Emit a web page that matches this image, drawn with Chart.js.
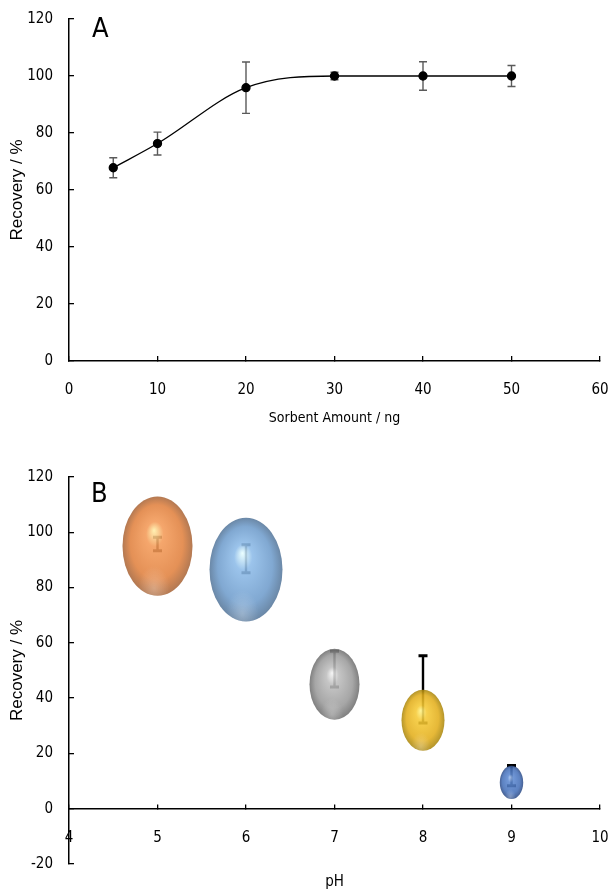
<!DOCTYPE html>
<html><head><meta charset="utf-8">
<script src="https://cdn.jsdelivr.net/npm/chart.js@4.4.1/dist/chart.umd.min.js"></script>
<style>
html,body{margin:0;padding:0;background:#fff;width:611px;height:891px;overflow:hidden}
#a{position:absolute;left:0;top:0}
#b{position:absolute;left:0;top:440px}
</style>
</head><body>
<canvas id="a" width="611" height="440"></canvas>
<canvas id="b" width="611" height="451"></canvas>
<script>
// ---------- Panel A data ----------
const sorbentAmount = [5, 10, 20, 30, 40, 50];
const recoveryA     = [67.8, 76.3, 95.9, 100, 100, 100];
const errorA        = [3.5, 4, 9, 1.3, 5, 3.7];
const xTicksA       = [0, 10, 20, 30, 40, 50, 60];
const yTicksA       = [0, 20, 40, 60, 80, 100, 120];

// ---------- Panel B data ----------
const pH          = [5, 6, 7, 8, 9];
const recoveryB   = [95, 86.5, 45, 32, 9.5];
const bubbleSizeB = [35, 36.5, 25, 21.5, 11.7];
const errLowB     = [93.3, 85.4, 44, 31, 8.3];
const errHighB    = [98.2, 95.5, 57, 55.3, 15.6];
const xTicksB     = [4, 5, 6, 7, 8, 9, 10];
const yTicksB     = [-20, 0, 20, 40, 60, 80, 100, 120];

// ---------- styles ----------
const NARROW = "'Liberation Sans Narrow', 'DejaVu Sans Condensed', 'Roboto Condensed', sans-serif";
const ARIAL = "'Liberation Sans', Arial, sans-serif";
const tickFont = {family: NARROW, size: 15};
const bubbleStyles = [
  {hi: '#FFEFA8', base: '#F39A58', mid: '#E0813F', dark: '#A8663A'},
  {hi: '#E8FFFF', base: '#8DBBE8', mid: '#6F9CCB', dark: '#56779A'},
  {hi: '#F4F4F4', base: '#BDBDBD', mid: '#9A9A9A', dark: '#6E6E6E'},
  {hi: '#FFF48A', base: '#F5C935', mid: '#E2AE1C', dark: '#A9860E'},
  {hi: '#A8C6F4', base: '#5C88D0', mid: '#4670B8', dark: '#2E4C86'}
];
const STRETCH = 1.42;

function stepOf(arr){ return arr[1] - arr[0]; }
function zeroPad(s){ s.paddingTop = 0; s.paddingBottom = 0; s.paddingLeft = 0; s.paddingRight = 0; }

function panelLabel(text, x, y, size){
  return {
    id: 'label' + text,
    afterDraw(chart){
      const ctx = chart.ctx;
      ctx.save();
      ctx.fillStyle = '#000';
      ctx.font = size + 'px ' + NARROW;
      ctx.textBaseline = 'alphabetic';
      ctx.textAlign = 'left';
      ctx.fillText(text, x, y);
      ctx.restore();
    }
  };
}

function baseY(ticks, title){
  return {
    type: 'linear',
    min: ticks[0], max: ticks[ticks.length - 1],
    ticks: {stepSize: stepOf(ticks), padding: 21, font: tickFont, color: '#000'},
    grid: {drawOnChartArea: false, tickLength: -5, color: '#000', lineWidth: 1.3},
    border: {color: '#000', width: 1.5},
    title: {display: true, text: title, font: {family: ARIAL, size: 17}, color: '#000', padding: {top: 7, bottom: 0}},
    afterFit(s){ s.width = 69; zeroPad(s); }
  };
}

// ---------- Chart A ----------
const errorBarsA = {
  id: 'errorBarsA',
  beforeDatasetsDraw(chart){
    const {ctx, scales: {x, y}} = chart;
    ctx.save();
    ctx.strokeStyle = '#5a5a5a';
    ctx.lineWidth = 1.4;
    sorbentAmount.forEach((v, i) => {
      const px = x.getPixelForValue(v);
      const lo = y.getPixelForValue(recoveryA[i] - errorA[i]);
      const hi = y.getPixelForValue(recoveryA[i] + errorA[i]);
      ctx.beginPath();
      ctx.moveTo(px, lo); ctx.lineTo(px, hi);
      ctx.moveTo(px - 4, lo); ctx.lineTo(px + 4, lo);
      ctx.moveTo(px - 4, hi); ctx.lineTo(px + 4, hi);
      ctx.stroke();
    });
    ctx.restore();
  }
};

new Chart(document.getElementById('a'), {
  type: 'line',
  data: {
    datasets: [{
      data: sorbentAmount.map((v, i) => ({x: v, y: recoveryA[i]})),
      borderColor: '#000', borderWidth: 1.3,
      pointRadius: 4, pointBackgroundColor: '#000', pointBorderColor: '#000',
      cubicInterpolationMode: 'monotone', fill: false
    }]
  },
  options: {
    responsive: false, animation: false, events: [],
    layout: {padding: {top: 19, right: 11, left: 0, bottom: 0}},
    plugins: {legend: {display: false}, tooltip: {enabled: false}},
    scales: {
      x: {
        type: 'linear',
        min: xTicksA[0], max: xTicksA[xTicksA.length - 1],
        ticks: {stepSize: stepOf(xTicksA), padding: 25, font: tickFont, color: '#000'},
        grid: {drawOnChartArea: false, tickLength: -5, color: '#000', lineWidth: 1.3},
        border: {color: '#000', width: 1.5},
        title: {display: true, text: 'Sorbent Amount / ng', font: {family: NARROW, size: 14}, color: '#000', padding: {top: 0, bottom: 13}},
        afterFit(s){ s.height = 79; zeroPad(s); }
      },
      y: baseY(yTicksA, 'Recovery / %')
    }
  },
  plugins: [errorBarsA, panelLabel('A', 92, 37, 27)]
});

// ---------- Chart B ----------
const errorBarsB = {
  id: 'errorBarsB',
  beforeDatasetsDraw(chart){
    const {ctx, scales: {x, y}} = chart;
    ctx.save();
    ctx.strokeStyle = '#000';
    pH.forEach((v, i) => {
      const px = x.getPixelForValue(v);
      const lo = y.getPixelForValue(errLowB[i]);
      const hi = y.getPixelForValue(errHighB[i]);
      ctx.lineWidth = 2.4;
      ctx.beginPath(); ctx.moveTo(px, lo); ctx.lineTo(px, hi); ctx.stroke();
      ctx.lineWidth = 3;
      ctx.beginPath();
      ctx.moveTo(px - 4.5, lo); ctx.lineTo(px + 4.5, lo);
      ctx.moveTo(px - 4.5, hi); ctx.lineTo(px + 4.5, hi);
      ctx.stroke();
    });
    ctx.restore();
  }
};

const sphereBubbles = {
  id: 'sphereBubbles',
  afterDatasetsDraw(chart){
    const ctx = chart.ctx;
    const meta = chart.getDatasetMeta(0);
    meta.data.forEach((el, i) => {
      const r = el.options.radius;
      const st = bubbleStyles[i % bubbleStyles.length];
      ctx.save();
      ctx.translate(el.x, el.y);
      ctx.scale(1, STRETCH);
      ctx.globalAlpha = 0.88;
      const g = ctx.createRadialGradient(-0.1 * r, -0.32 * r, 0, 0, 0, r);
      g.addColorStop(0, st.hi);
      g.addColorStop(0.25, st.base);
      g.addColorStop(0.75, st.mid);
      g.addColorStop(1, st.dark);
      ctx.beginPath(); ctx.arc(0, 0, r, 0, Math.PI * 2);
      ctx.fillStyle = g; ctx.fill();
      const g2 = ctx.createRadialGradient(-0.1 * r, 0.85 * r, 0, -0.1 * r, 0.85 * r, 0.45 * r);
      g2.addColorStop(0, 'rgba(255,255,255,0.3)');
      g2.addColorStop(1, 'rgba(255,255,255,0)');
      ctx.fillStyle = g2; ctx.fill();
      ctx.restore();
    });
  }
};

new Chart(document.getElementById('b'), {
  type: 'bubble',
  data: {
    datasets: [{
      data: pH.map((v, i) => ({x: v, y: recoveryB[i], r: bubbleSizeB[i]})),
      backgroundColor: 'rgba(0,0,0,0)', borderColor: 'rgba(0,0,0,0)', borderWidth: 0
    }]
  },
  options: {
    responsive: false, animation: false, events: [],
    layout: {autoPadding: false, padding: {top: 37, right: 11, left: 0, bottom: 0}},
    plugins: {legend: {display: false}, tooltip: {enabled: false}},
    scales: {
      x: {
        type: 'linear', position: {y: 0},
        min: xTicksB[0], max: xTicksB[xTicksB.length - 1],
        ticks: {stepSize: stepOf(xTicksB), padding: 25, font: tickFont, color: '#000'},
        grid: {drawOnChartArea: false, tickLength: -5, color: '#000', lineWidth: 1.3},
        border: {color: '#000', width: 1.5},
        afterFit(s){ s.height = 0; zeroPad(s); }
      },
      xt: {
        type: 'linear', position: 'bottom', display: true,
        ticks: {display: false}, grid: {display: false}, border: {display: false},
        title: {display: true, text: 'pH', font: {family: NARROW, size: 15}, color: '#000', padding: 0},
        afterFit(s){ s.height = 27; zeroPad(s); }
      },
      y: baseY(yTicksB, 'Recovery / %')
    }
  },
  plugins: [errorBarsB, sphereBubbles, panelLabel('B', 91, 62, 27)]
});
</script>
</body></html>
